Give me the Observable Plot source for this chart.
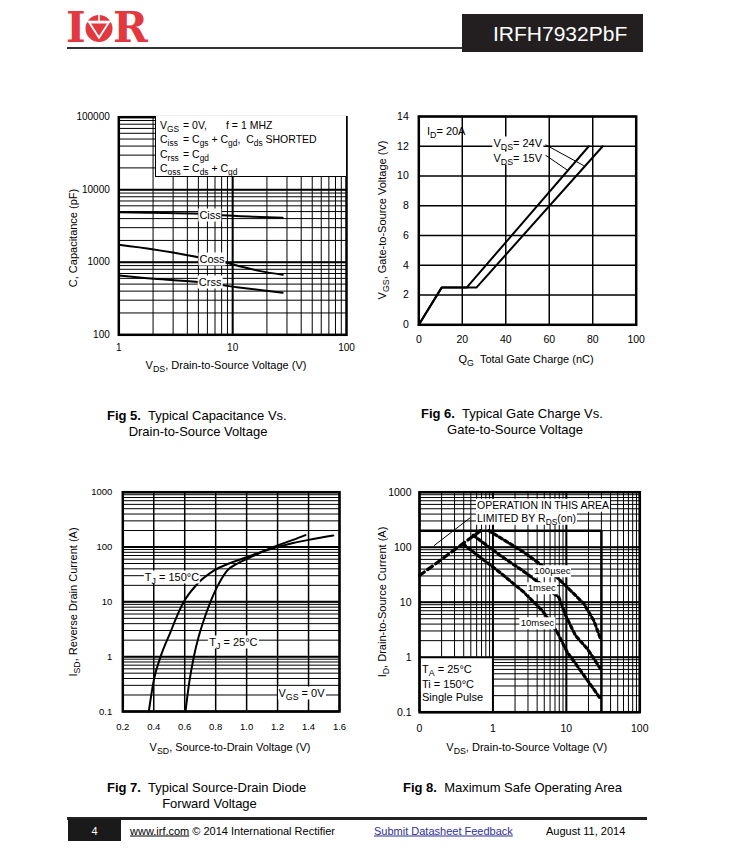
<!DOCTYPE html>
<html><head><meta charset="utf-8">
<script src="https://cdn.jsdelivr.net/npm/d3@7"></script>
<script src="https://cdn.jsdelivr.net/npm/@observablehq/plot@0.6"></script>
<style>
html,body{margin:0;padding:0;background:#fff;}
#page{position:relative;width:732px;height:852px;overflow:hidden;font-family:'Liberation Sans',Arial,Helvetica,sans-serif;color:#000;}
.t{position:absolute;white-space:nowrap;line-height:1;}
.t sub{font-size:0.8em;vertical-align:-0.35em;line-height:0;}
.bg{background:#fff;padding:1px 1px;}
.box{position:absolute;}
</style></head>
<body><div id="page"></div>
<script>
const page = document.getElementById('page');
const FONT = "'Liberation Sans', Arial, Helvetica, sans-serif";

// ---------------- DATA ----------------
// Fig 5 : capacitance vs VDS
const capVIss = [1, 2.03, 5.2, 8.1, 15, 27.5];
const capCIss = [4900, 4820, 4670, 4450, 4250, 4100];
const capVOss = [1, 2.03, 5.0, 8.5, 10.9, 17.5, 27.5];
const capCOss = [1740, 1500, 1175, 1000, 905, 755, 673];
const capVRss = [1, 2.03, 5.2, 10.9, 27.5];
const capCRss = [658, 591, 532, 454, 380];
const capNames = ["Ciss", "Coss", "Crss"];
const capNameV = [6.4, 6.65, 6.4];
const capNameC = [4430, 1094, 532];
const fig5XTicks = [1, 10, 100];
const fig5YTicks = [100, 1000, 10000, 100000];

// Fig 6 : gate charge
const qg15 = [0, 10.5, 22, 78.2];
const vgs15 = [0, 2.5, 2.5, 12];
const qg24 = [0, 10.5, 26.5, 84.6];
const vgs24 = [0, 2.5, 2.5, 12];
const fig6XTicks = [0, 20, 40, 60, 80, 100];
const fig6YTicks = [0, 2, 4, 6, 8, 10, 12, 14];
const fig6Leaders = [[58.3, 12.1, 75.9, 10.7], [58.3, 11.4, 68.3, 10.4]];

// Fig 7 : source-drain diode
const vsd150 = [0.368, 0.40, 0.444, 0.508, 0.55, 0.594, 0.68, 0.788, 0.9, 1.0, 1.1, 1.2, 1.3, 1.4, 1.56];
const isd150 = [0.1, 0.37, 1, 2.8, 5.5, 10, 21, 37, 52, 65, 82, 100, 118, 135, 162];
const vsd25 = [0.605, 0.63, 0.659, 0.69, 0.723, 0.76, 0.788, 0.83, 0.874, 0.94, 1.0, 1.1, 1.2, 1.3, 1.38];
const isd25 = [0.1, 0.35, 1, 2.3, 4.6, 9, 14, 24, 37, 50, 60, 82, 107, 135, 165];
const fig7XTicks = [0.2, 0.4, 0.6, 0.8, 1.0, 1.2, 1.4, 1.6];
const fig7XLabels = ["0.2", "0.4", "0.6", "0.8", "1.0", "1.2", "1.4", "1.6"];
const fig7YTicks = [0.1, 1, 10, 100, 1000];

// Fig 8 : safe operating area
const rdsV = [0.1, 0.68];
const rdsI = [30.5, 200];
const us100V = [0.88, 2.64, 6.6, 10.3, 17.3, 23.7, 29.2];
const us100I = [200, 81, 33, 18.7, 9.4, 4.6, 2.16];
const ms1V = [0.54, 1.27, 2.5, 7.9, 9.8, 13.3, 19.3, 29.2];
const ms1I = [165, 70, 38, 12.3, 5.7, 2.48, 1.42, 0.615];
const ms10V = [0.39, 1.27, 2.64, 4.7, 7.5, 10.3, 15.6, 29.2];
const ms10I = [115, 34, 15.2, 7.07, 2.85, 1.23, 0.57, 0.175];
const soaLimitI = 200;
const soaLimitV = 30;
const soaNames = ["100µsec", "1msec", "10msec"];
const soaNameV = [6.55, 4.7, 4.1];
const soaNameI = [36, 17.5, 4.05];
const fig8XTicks = [0.1, 1, 10, 100];
const fig8XLabels = ["0", "1", "10", "100"];
const fig8YTicks = [0.1, 1, 10, 100, 1000];
const fig8Leader = [[0.158, 107, 0.496, 347]];
const fig8NoteBox = [[0.1, 1, 0.1, 1]];

// ---------------- HELPERS ----------------
const pts = (xs, ys) => xs.map((x, i) => ({x, y: ys[i]}));
function logGrid(lo, hi) {
  const g = [];
  for (let d = lo; d < hi * 0.999; d *= 10) for (let k = 1; k <= 9; k++) g.push(k * d);
  g.push(hi);
  return g;
}
function scaleFn(plot, name) {
  const s = plot.scale(name);
  if (s && typeof s.apply === "function") return v => s.apply(v);
  return (s.type === "log" ? d3.scaleLog() : d3.scaleLinear()).domain(s.domain).range(s.range);
}
function place(plot, left, top) {
  plot.style.position = "absolute";
  plot.style.left = left + "px";
  plot.style.top = top + "px";
  page.appendChild(plot);
  return {x: scaleFn(plot, "x"), y: scaleFn(plot, "y"), left, top};
}
function T(x, y, html, o = {}) {
  const d = document.createElement("div");
  d.className = "t" + (o.bg ? " bg" : "");
  d.innerHTML = html;
  d.style.left = x + "px";
  d.style.top = y + "px";
  d.style.fontSize = (o.size || 11) + "px";
  if (o.weight) d.style.fontWeight = o.weight;
  if (o.color) d.style.color = o.color;
  if (o.family) d.style.fontFamily = o.family;
  const a = o.anchor || "start";
  const tx = a === "start" ? "0" : a === "end" ? "-100%" : "-50%";
  d.style.transform = `translate(${tx},-50%)` + (o.rotate ? ` rotate(${o.rotate}deg)` : "");
  page.appendChild(d);
  return d;
}
function N(p, xv, yv, html, o = {}) {
  return T(p.left + p.x(xv), p.top + p.y(yv), html, o);
}
const baseStyle = (fs) => ({fontFamily: FONT, fontSize: fs, background: "transparent", overflow: "visible", color: "#000"});

// ---------------- FIG 5 ----------------
const plot5 = Plot.plot({
  width: 300, height: 270, marginLeft: 58.3, marginRight: 14, marginTop: 11.7, marginBottom: 40.7,
  x: {type: "log", domain: [1, 100]},
  y: {type: "log", domain: [100, 100000]},
  style: baseStyle("10px"),
  marks: [
    Plot.ruleX(logGrid(1, 100), {strokeWidth: 1}),
    Plot.ruleY(logGrid(100, 100000), {strokeWidth: 1}),
    Plot.ruleX([10], {strokeWidth: 2}),
    Plot.ruleY([1000, 10000], {strokeWidth: 2}),
    Plot.line(pts(capVIss, capCIss), {x: "x", y: "y", strokeWidth: 2, curve: "monotone-x"}),
    Plot.line(pts(capVOss, capCOss), {x: "x", y: "y", strokeWidth: 2, curve: "monotone-x"}),
    Plot.line(pts(capVRss, capCRss), {x: "x", y: "y", strokeWidth: 2, curve: "monotone-x"}),
    Plot.frame({strokeWidth: 2.5}),
    Plot.axisX({ticks: fig5XTicks, tickSize: 0, tickPadding: 9.5, label: null, tickFormat: d => String(d)}),
    Plot.axisY({ticks: fig5YTicks, tickSize: 0, tickPadding: 9, label: null, tickFormat: d => String(d)})
  ]
});
const P5 = place(plot5, 60, 105);

// ---------------- FIG 6 ----------------
const plot6 = Plot.plot({
  width: 290, height: 270, marginLeft: 48.3, marginRight: 24.3, marginTop: 11, marginBottom: 50.7,
  x: {type: "linear", domain: [0, 100]},
  y: {type: "linear", domain: [0, 14]},
  style: baseStyle("10.5px"),
  marks: [
    Plot.ruleX(fig6XTicks, {strokeWidth: 1.5}),
    Plot.ruleY(fig6YTicks, {strokeWidth: 1.5}),
    Plot.line(pts(qg15, vgs15), {x: "x", y: "y", strokeWidth: 2}),
    Plot.line(pts(qg24, vgs24), {x: "x", y: "y", strokeWidth: 2}),
    Plot.link(fig6Leaders, {x1: d => d[0], y1: d => d[1], x2: d => d[2], y2: d => d[3], strokeWidth: 1}),
    Plot.frame({strokeWidth: 2.5}),
    Plot.axisX({ticks: fig6XTicks, tickSize: 0, tickPadding: 11, label: null, tickFormat: d => String(d)}),
    Plot.axisY({ticks: fig6YTicks, tickSize: 0, tickPadding: 10, label: null, tickFormat: d => String(d)})
  ]
});
const P6 = place(plot6, 370, 105);

// ---------------- FIG 7 ----------------
const plot7 = Plot.plot({
  width: 300, height: 280, marginLeft: 62.3, marginRight: 21, marginTop: 11.7, marginBottom: 49,
  x: {type: "linear", domain: [0.2, 1.6]},
  y: {type: "log", domain: [0.1, 1000]},
  style: baseStyle("9.5px"),
  marks: [
    Plot.ruleY(logGrid(0.1, 1000), {strokeWidth: 1}),
    Plot.ruleY(fig7YTicks, {strokeWidth: 2}),
    Plot.ruleX(fig7XTicks, {strokeWidth: 1.5}),
    Plot.line(pts(vsd150, isd150), {x: "x", y: "y", strokeWidth: 2, curve: "monotone-x"}),
    Plot.line(pts(vsd25, isd25), {x: "x", y: "y", strokeWidth: 2, curve: "monotone-x"}),
    Plot.frame({strokeWidth: 2.5}),
    Plot.axisX({ticks: fig7XTicks, tickSize: 0, tickPadding: 12, label: null, tickFormat: d => fig7XLabels[fig7XTicks.indexOf(d)]}),
    Plot.axisY({ticks: fig7YTicks, tickSize: 0, tickPadding: 10.5, label: null, tickFormat: d => String(d)})
  ]
});
const P7 = place(plot7, 60, 480);

// ---------------- FIG 8 ----------------
const dash = {x: "x", y: "y", strokeWidth: 3.2, strokeDasharray: "3.2,3"};
const plot8 = Plot.plot({
  width: 290, height: 280, marginLeft: 49, marginRight: 20.7, marginTop: 11.7, marginBottom: 48.3,
  x: {type: "log", domain: [0.1, 100]},
  y: {type: "log", domain: [0.1, 1000]},
  style: baseStyle("10.5px"),
  marks: [
    Plot.ruleX(logGrid(0.1, 100), {strokeWidth: 1}),
    Plot.ruleY(logGrid(0.1, 1000), {strokeWidth: 1}),
    Plot.rect(fig8NoteBox, {x1: d => d[0], x2: d => d[1], y1: d => d[2], y2: d => d[3], fill: "white"}),
    Plot.ruleX(fig8XTicks, {strokeWidth: 2}),
    Plot.ruleY(fig8YTicks, {strokeWidth: 2}),
    Plot.ruleY([soaLimitI], {x1: fig8XTicks[0], x2: soaLimitV, strokeWidth: 2.5}),
    Plot.ruleX([soaLimitV], {y1: fig8YTicks[0], y2: soaLimitI, strokeWidth: 2.5}),
    Plot.line(pts(rdsV, rdsI), {...dash, strokeDasharray: "6,4"}),
    Plot.line(pts(us100V, us100I), dash),
    Plot.line(pts(ms1V, ms1I), dash),
    Plot.line(pts(ms10V, ms10I), dash),
    Plot.link(fig8Leader, {x1: d => d[0], y1: d => d[1], x2: d => d[2], y2: d => d[3], strokeWidth: 1}),
    Plot.frame({strokeWidth: 2.5}),
    Plot.axisX({ticks: fig8XTicks, tickSize: 0, tickPadding: 12.5, label: null, tickFormat: d => fig8XLabels[fig8XTicks.indexOf(d)]}),
    Plot.axisY({ticks: fig8YTicks, tickSize: 0, tickPadding: 8, label: null, tickFormat: d => String(d)})
  ]
});
const P8 = place(plot8, 370, 480);

// ---------------- HEADER ----------------
const logo = document.createElement("div");
logo.style.cssText = "position:absolute;left:60px;top:0px;width:100px;height:56px;";
logo.innerHTML = `<svg width="100" height="56" style="overflow:visible" xmlns="http://www.w3.org/2000/svg">
  <circle cx="39" cy="28.5" r="13.5" fill="#e2383e"/>
  <path d="M27.5 21.5 L50.5 21.5 L39 39.5 Z" fill="#fff"/>
  <path d="M31 23.5 L47 23.5 L39 36 Z" fill="#e2383e"/>
  <rect x="25.5" y="20.7" width="27" height="1.6" fill="#fff"/>
  <rect x="38.2" y="14" width="1.6" height="7.5" fill="#fff"/>
</svg>`;
page.appendChild(logo);
T(66, 27.5, "I", {size: 42, color: "#e2383e", weight: "bold", family: "'DejaVu Serif', serif"});
T(113, 27.5, "R", {size: 42, color: "#e2383e", weight: "bold", family: "'DejaVu Serif', serif"});
const rule = document.createElement("div");
rule.className = "box";
rule.style.cssText += "left:67px;top:47px;width:396px;height:2px;background:#333;";
page.appendChild(rule);
const hdr = document.createElement("div");
hdr.className = "box";
hdr.style.cssText += "left:462px;top:14px;width:181px;height:38px;background:#231f20;";
page.appendChild(hdr);
T(493, 33, "IRFH7932PbF", {size: 21, color: "#fff"});

// ---------------- FIG 5 annotations ----------------
const leg = document.createElement("div");
leg.className = "box";
leg.style.cssText += "left:154.5px;top:116px;width:191px;height:61px;background:#fff;border-left:1.5px solid #000;border-bottom:1.5px solid #000;box-sizing:border-box;";
page.appendChild(leg);
const legRows = [
  [125, "V<sub>GS</sub>", "= 0V,", "f = 1 MHZ"],
  [139, "C<sub>iss</sub>", "= C<sub>gs</sub> + C<sub>gd</sub>, &nbsp;C<sub>ds</sub> SHORTED", ""],
  [153.5, "C<sub>rss</sub>", "= C<sub>gd</sub>", ""],
  [168, "C<sub>oss</sub>", "= C<sub>ds</sub> + C<sub>gd</sub>", ""]
];
legRows.forEach(r => {
  T(160, r[0], r[1], {size: 10.5});
  T(183, r[0], r[2], {size: 10.5});
  if (r[3]) T(226, r[0], r[3], {size: 10.5});
});
capNames.forEach((n, i) => N(P5, capNameV[i], capNameC[i], n, {anchor: "middle", bg: true, size: 11}));
T(226, 365, "V<sub>DS</sub>, Drain-to-Source Voltage (V)", {anchor: "middle", size: 11});
T(73, 238, "C, Capacitance (pF)", {anchor: "middle", size: 11, rotate: -90});

// ---------------- FIG 6 annotations ----------------
N(P6, 4, 13.0, "I<sub>D</sub>= 20A", {size: 11});
N(P6, 57.4, 12.2, "V<sub>DS</sub>= 24V", {anchor: "end", size: 11, bg: true});
N(P6, 57.4, 11.2, "V<sub>DS</sub>= 15V", {anchor: "end", size: 11, bg: true});
T(526, 359, "Q<sub>G</sub> &nbsp;Total Gate Charge (nC)", {anchor: "middle", size: 11});
T(381.7, 220, "V<sub>GS</sub>, Gate-to-Source Voltage (V)", {anchor: "middle", size: 11, rotate: -90});

// ---------------- FIG 7 annotations ----------------
N(P7, 0.521, 27.9, "T<sub>J</sub> = 150°C", {anchor: "middle", size: 11, bg: true});
N(P7, 0.918, 1.82, "T<sub>J</sub> = 25°C", {anchor: "middle", size: 11, bg: true});
N(P7, 1.358, 0.213, "V<sub>GS</sub> = 0V", {anchor: "middle", size: 11, bg: true});
T(230, 746.7, "V<sub>SD</sub>, Source-to-Drain Voltage (V)", {anchor: "middle", size: 11});
T(73, 601.7, "I<sub>SD</sub>, Reverse Drain Current (A)", {anchor: "middle", size: 11, rotate: -90});

// ---------------- FIG 8 annotations ----------------
soaNames.forEach((n, i) => N(P8, soaNameV[i], soaNameI[i], n, {anchor: "middle", size: 9.5, bg: true}));
T(476, 505, "OPERATION IN THIS AREA", {size: 10.5, bg: true});
T(476, 518, "LIMITED BY R<sub>DS</sub>(on)", {size: 10.5, bg: true});
T(422, 669, "T<sub>A</sub> = 25°C", {size: 11});
T(422, 684, "Ti = 150°C", {size: 11});
T(422, 697, "Single Pulse", {size: 11});
T(526.7, 746.7, "V<sub>DS</sub>, Drain-to-Source Voltage (V)", {anchor: "middle", size: 11});
T(381.7, 601.7, "I<sub>D</sub>, Drain-to-Source Current (A)", {anchor: "middle", size: 11, rotate: -90});

// ---------------- CAPTIONS ----------------
T(107, 415, "<b>Fig 5.</b>&nbsp; Typical Capacitance Vs.", {size: 13});
T(198, 431, "Drain-to-Source Voltage", {size: 13, anchor: "middle"});
T(421, 413, "<b>Fig 6.</b>&nbsp; Typical Gate Charge Vs.", {size: 13});
T(515, 429, "Gate-to-Source Voltage", {size: 13, anchor: "middle"});
T(107, 787, "<b>Fig 7.</b>&nbsp; Typical Source-Drain Diode", {size: 13});
T(209.5, 803, "Forward Voltage", {size: 13, anchor: "middle"});
T(403, 787, "<b>Fig 8.</b>&nbsp; Maximum Safe Operating Area", {size: 13});

// ---------------- FOOTER ----------------
const fl = document.createElement("div");
fl.className = "box";
fl.style.cssText += "left:67px;top:817px;width:580px;height:3px;background:#222;";
page.appendChild(fl);
const fb = document.createElement("div");
fb.className = "box";
fb.style.cssText += "left:68px;top:819px;width:53px;height:22px;background:#1a1a1a;";
page.appendChild(fb);
T(94.5, 830.5, "4", {size: 11, color: "#fff", anchor: "middle"});
T(130, 830.5, "<span style='text-decoration:underline'>www.irf.com</span> © 2014 International Rectifier", {size: 11});
T(374, 830.5, "<span style='text-decoration:underline'>Submit Datasheet Feedback</span>", {size: 11, color: "#2e3192"});
T(546, 830.5, "August 11, 2014", {size: 11});
</script></body></html>
